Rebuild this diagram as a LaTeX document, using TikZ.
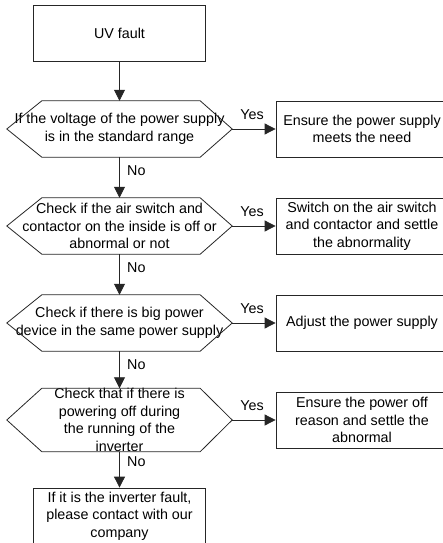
\documentclass[tikz,border=0pt]{standalone}
\usepackage{fontspec}
\setmainfont{Liberation Sans}
\usetikzlibrary{arrows.meta}
\newcommand{\hexoutline}[1]{%
  \draw[hexline] (#1.west) -- ([xshift=35pt]#1.north west) -- ([xshift=-32pt]#1.north east)
    -- (#1.east) -- ([xshift=-32pt]#1.south east) -- ([xshift=35pt]#1.south west) -- cycle;}
\begin{document}
\begin{tikzpicture}[x=1pt,y=-1pt,
  every node/.style={font=\fontsize{14.3}{17.5}\selectfont},
  box/.style={draw=black!85, line width=0.8pt, minimum width=172pt, minimum height=56pt, inner sep=0pt, align=center},
  hexa/.style={minimum width=225pt, minimum height=56pt, inner sep=0pt, align=center},
  hexline/.style={draw=black!85, line width=0.8pt},
  conn/.style={draw=black!85, line width=0.8pt, -{Triangle[length=11pt,width=11pt]}},
  lbl/.style={inner sep=0pt}
]
\useasboundingbox (0,0) rectangle (442,543);
% left column
\node[box] (uv) at (119.5,33.5) {UV fault};
\node[hexa] (h1) at (119.5,129) {If the voltage of the power supply\\is in the standard range};
\node[hexa] (h2) at (119.5,226) {Check if the air switch and\\contactor on the inside is off or\\abnormal or not};
\node[hexa] (h3) at (119.5,323) {Check if there is big power\\device in the same power supply};
\node[hexa] (h4) at (119.5,420) {Check that if there is\\powering off during\\the running of the\\inverter};
\hexoutline{h1}
\hexoutline{h2}
\hexoutline{h3}
\hexoutline{h4}
\node[box] (fin) at (119.5,516) {If it is the inverter fault,\\please contact with our\\company};
% right column
\node[box] (r1) at (362,129) {Ensure the power supply\\meets the need};
\node[box] (r2) at (362,226) {Switch on the air switch\\and contactor and settle\\the abnormality};
\node[box] (r3) at (362,323) {Adjust the power supply};
\node[box] (r4) at (362,420) {Ensure the power off\\reason and settle the\\abnormal};
% connectors
\draw[conn] (uv.south) -- (h1.north);
\draw[conn] (h1.south) -- (h2.north);
\draw[conn] (h2.south) -- (h3.north);
\draw[conn] (h3.south) -- (h4.north);
\draw[conn] (h4.south) -- (fin.north);
\draw[conn] (h1.east) -- (r1.west);
\draw[conn] (h2.east) -- (r2.west);
\draw[conn] (h3.east) -- (r3.west);
\draw[conn] (h4.east) -- (r4.west);
% labels
\node[lbl] (y1) at (252,115) {Yes};
\node[lbl] (y2) at (252,212) {Yes};
\node[lbl] (y3) at (252,309) {Yes};
\node[lbl] (y4) at (252,406) {Yes};
\node[lbl, anchor=west] (n1) at (127,171) {No};
\node[lbl, anchor=west] (n2) at (127,268) {No};
\node[lbl, anchor=west] (n3) at (127,365) {No};
\node[lbl, anchor=west] (n4) at (127,462) {No};
\end{tikzpicture}
\end{document}
